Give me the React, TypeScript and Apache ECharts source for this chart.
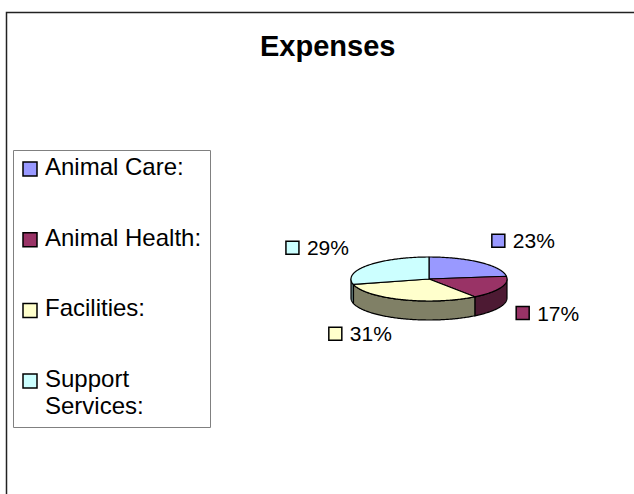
import React, { useEffect, useRef } from "react";
import * as echarts from "echarts";

const titleText = "Expenses";
const categories = ["Animal Care:", "Animal Health:", "Facilities:", "Support Services:"];
const values = [23, 17, 31, 29];
const topColors = ["#9999FF", "#993366", "#FFFFCC", "#CCFFFF"];
const sideColors = ["#4D4D80", "#4D1A33", "#808066", "#668080"];

const FONT = "'Liberation Sans', Arial, sans-serif";
const CX = 429;
const CY = 279;
const RX = 78;
const RY = 22;
const DEPTH = 19;

const total = values.reduce((s, v) => s + v, 0);
const starts: number[] = [];
const ends: number[] = [];
{
  let acc = 0;
  values.forEach((v) => {
    starts.push((acc / total) * 360);
    acc += v;
    ends.push((acc / total) * 360);
  });
}

const pt = (deg: number, dy: number) => {
  const r = (deg * Math.PI) / 180;
  return [CX + RX * Math.sin(r), CY - RY * Math.cos(r) + dy];
};

const arc = (a: number, b: number, dy: number) => {
  const pts: number[][] = [];
  const n = Math.max(2, Math.ceil(Math.abs(b - a)));
  for (let k = 0; k <= n; k++) pts.push(pt(a + ((b - a) * k) / n, dy));
  return pts;
};

export default function App() {
  const ref = useRef<HTMLDivElement>(null);
  useEffect(() => {
    if (!ref.current) return;
    const chart = echarts.init(ref.current, undefined, { renderer: "svg" });
    const data = values.map((v, i) => ({ name: categories[i], value: v }));

    const legendGraphics: any[] = [];
    categories.forEach((c, i) => {
      const base = 175 + i * 70.7;
      legendGraphics.push({
        type: "rect",
        shape: { x: 23, y: base - 13, width: 14, height: 14 },
        style: { fill: topColors[i], stroke: "#000", lineWidth: 1.5 },
      });
      legendGraphics.push({
        type: "text",
        x: 45,
        y: base - 22,
        style: {
          text: c,
          fill: "#000",
          fontSize: 24,
          fontFamily: FONT,
          verticalAlign: "top",
          lineHeight: 27,
          width: 165,
          overflow: "break",
        },
      });
    });

    chart.setOption({
      animation: false,
      backgroundColor: "#fff",
      title: {
        text: titleText,
        left: 260,
        top: 31,
        padding: 0,
        textStyle: { fontSize: 29, fontWeight: "bold", fontFamily: FONT, color: "#000" },
      },
      graphic: [
        {
          type: "rect",
          shape: { x: 6.5, y: 12.5, width: 700, height: 600 },
          style: { fill: "none", stroke: "#222", lineWidth: 1.5 },
          z: 0,
        },
        {
          type: "rect",
          shape: { x: 13.5, y: 150.5, width: 197, height: 277 },
          style: { fill: "none", stroke: "#808080", lineWidth: 1 },
        },
        ...legendGraphics,
      ],
      series: [
        {
          type: "custom",
          name: "sides",
          coordinateSystem: "none",
          silent: true,
          z: 2,
          data,
          renderItem: (params: any) => {
            const i = params.dataIndex;
            const s = Math.max(starts[i], 90);
            const e = Math.min(ends[i], 270);
            if (e <= s) return { type: "group", children: [] };
            const pts = [...arc(s, e, 0), ...arc(e, s, DEPTH)];
            return {
              type: "polygon",
              shape: { points: pts },
              style: { fill: sideColors[i], stroke: "#000", lineWidth: 1.2, lineJoin: "round" },
            };
          },
        },
        {
          type: "custom",
          name: "tops",
          coordinateSystem: "none",
          silent: true,
          z: 3,
          data,
          renderItem: (params: any) => {
            const i = params.dataIndex;
            const a = starts[i];
            const b = ends[i];
            const pts = [[CX, CY], ...arc(a, b, 0)];
            const mid = (a + b) / 2;
            const r = (mid * Math.PI) / 180;
            const sn = Math.sin(r);
            const cs = Math.cos(r);
            const ax = CX + 95 * sn;
            const ay = cs >= 0 ? CY - 51 * cs : CY - 38 * cs + DEPTH;
            const left = sn >= 0 ? ax : ax - 68;
            const pct = Math.round((values[i] / total) * 100) + "%";
            return {
              type: "group",
              children: [
                {
                  type: "polygon",
                  shape: { points: pts },
                  style: { fill: topColors[i], stroke: "#000", lineWidth: 1.2, lineJoin: "round" },
                },
                {
                  type: "rect",
                  shape: { x: left, y: ay - 6.5, width: 13, height: 13 },
                  style: { fill: topColors[i], stroke: "#000", lineWidth: 1.5 },
                },
                {
                  type: "text",
                  x: left + 21,
                  y: ay,
                  style: {
                    text: pct,
                    fill: "#000",
                    fontSize: 21,
                    fontFamily: FONT,
                    verticalAlign: "middle",
                    align: "left",
                  },
                },
              ],
            };
          },
        },
      ],
    });
    return () => chart.dispose();
  }, []);
  return (
    <div
      ref={ref}
      style={{ position: "fixed", left: 0, top: 0, width: 634, height: 494 }}
    />
  );
}
